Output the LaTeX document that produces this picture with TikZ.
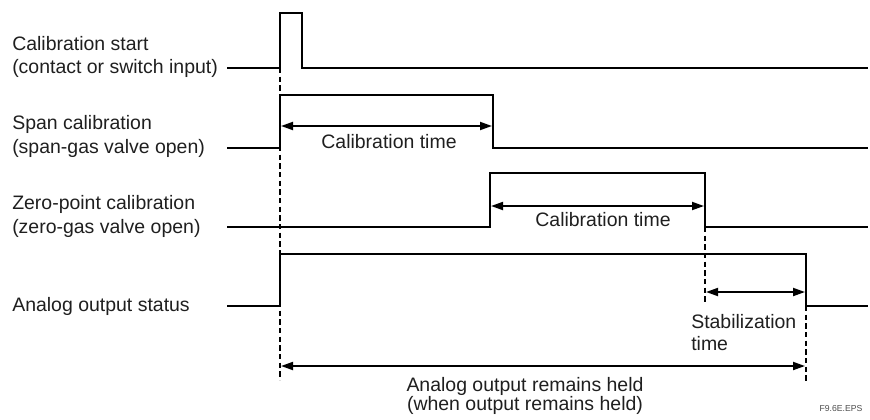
\documentclass[tikz,border=0pt]{standalone}
\usepackage{fontspec}
\setmainfont{Liberation Sans}
\usetikzlibrary{arrows.meta}
\begin{document}
\begin{tikzpicture}[x=0.75pt,y=-0.75pt,
  sig/.style={line width=2.2pt, line join=miter, draw=black},
  dim/.style={line width=1.4pt, {Triangle[length=9pt,width=6pt]}-{Triangle[length=9pt,width=6pt]}},
  guide/.style={line width=0.9pt, dash pattern=on 4pt off 2.5pt},
  lbl/.style={font=\fontsize{14.6}{18}\selectfont, inner sep=0pt, text=black!88},
  tag/.style={font=\fontsize{6.5}{8}\selectfont, inner sep=0pt, text=black!70}]
\useasboundingbox (0,0) rectangle (870,419);

% left labels
\node[lbl, anchor=west] (l1a) at (12,44) {Calibration start};
\node[lbl, anchor=west] (l1b) at (12,68) {(contact or switch input)};
\node[lbl, anchor=west] (l2a) at (12,124) {Span calibration};
\node[lbl, anchor=west] (l2b) at (12,148) {(span-gas valve open)};
\node[lbl, anchor=west] (l3a) at (12,204) {Zero-point calibration};
\node[lbl, anchor=west] (l3b) at (12,228) {(zero-gas valve open)};
\node[lbl, anchor=west] (l4) at (12,306) {Analog output status};

% key instants
\coordinate (t0top) at (280,68);
\coordinate (t0bot) at (280,380);
\coordinate (t2top) at (705,227);
\coordinate (t2bot) at (705,304);
\coordinate (t3top) at (806,306);
\coordinate (t3bot) at (806,382);

% guide lines
\draw[guide] (t0top) -- (t0bot);
\draw[guide] (t2top) -- (t2bot);
\draw[guide] (t3top) -- (t3bot);

% waveforms
\draw[sig] (227,68) -- (280,68) -- (280,13) -- (302,13) -- (302,68) -- (868,68);
\draw[sig] (227,148) -- (280,148) -- (280,95) -- (493,95) -- (493,148) -- (868,148);
\draw[sig] (227,227) -- (490,227) -- (490,173) -- (705,173) -- (705,227) -- (868,227);
\draw[sig] (227,306) -- (280,306) -- (280,254) -- (806,254) -- (806,306) -- (868,306);

% dimension arrows
\coordinate (a1l) at (281,126); \coordinate (a1r) at (492,126);
\coordinate (a2l) at (491,206); \coordinate (a2r) at (704,206);
\coordinate (a3l) at (706,292); \coordinate (a3r) at (805,292);
\coordinate (a4l) at (281,366); \coordinate (a4r) at (805,366);
\draw[dim] (a1l) -- (a1r);
\draw[dim] (a2l) -- (a2r);
\draw[dim] (a3l) -- (a3r);
\draw[dim] (a4l) -- (a4r);

% arrow labels
\node[lbl] (c1) at (389,142) {Calibration time};
\node[lbl] (c2) at (603,220) {Calibration time};
\node[lbl, anchor=west] (s1) at (691,322) {Stabilization};
\node[lbl, anchor=west] (s2) at (691,344) {time};
\node[lbl] (h1) at (525,386) {Analog output remains held};
\node[lbl] (h2) at (525,405) {(when output remains held)};
\node[tag] (fig) at (841,409) {F9.6E.EPS};
\end{tikzpicture}
\end{document}
